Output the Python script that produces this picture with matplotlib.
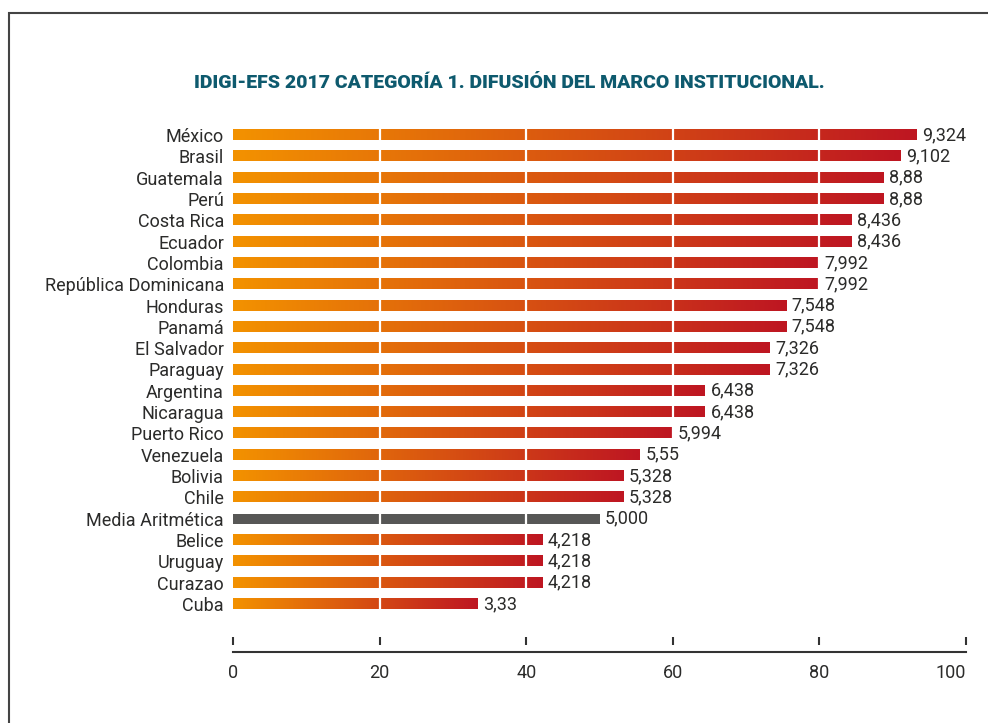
import numpy as np
import matplotlib
matplotlib.use('Agg')
import matplotlib.pyplot as plt
from matplotlib.colors import LinearSegmentedColormap
from matplotlib.patches import Rectangle
from matplotlib.lines import Line2D

plt.rcParams['font.family'] = ['Roboto', 'DejaVu Sans']

# data
countries = ['México', 'Brasil', 'Guatemala', 'Perú', 'Costa Rica', 'Ecuador', 'Colombia',
             'República Dominicana', 'Honduras', 'Panamá', 'El Salvador', 'Paraguay',
             'Argentina', 'Nicaragua', 'Puerto Rico', 'Venezuela', 'Bolivia', 'Chile',
             'Media Aritmética', 'Belice', 'Uruguay', 'Curazao', 'Cuba']
scores = [9.324, 9.102, 8.88, 8.88, 8.436, 8.436, 7.992, 7.992, 7.548, 7.548, 7.326, 7.326,
          6.438, 6.438, 5.994, 5.55, 5.328, 5.328, 5.000, 4.218, 4.218, 4.218, 3.33]
value_labels = ['9,324', '9,102', '8,88', '8,88', '8,436', '8,436', '7,992', '7,992', '7,548',
                '7,548', '7,326', '7,326', '6,438', '6,438', '5,994', '5,55', '5,328', '5,328',
                '5,000', '4,218', '4,218', '4,218', '3,33']
x_ticks = [0, 20, 40, 60, 80, 100]
title = 'IDIGI-EFS 2017 CATEGORÍA 1. DIFUSIÓN DEL MARCO INSTITUCIONAL.'

grad = LinearSegmentedColormap.from_list('bar_grad', ['#f39200', '#be1622'])
gray = '#575756'
text_color = '#2b2b2a'
fs = 13

fig = plt.figure(figsize=(9.88, 7.23), dpi=100)
ax = fig.add_axes([233 / 988, 78 / 723, 733 / 988, 525 / 723])

ramp = np.linspace(0, 1, 256).reshape(1, -1)
bar_h = 0.47
for i, (name, s, lab) in enumerate(zip(countries, scores, value_labels)):
    w = s * 10
    if name == 'Media Aritmética':
        ax.barh(i, w, height=bar_h, color=gray, zorder=2)
    else:
        ax.imshow(ramp, cmap=grad, aspect='auto', interpolation='bicubic',
                  extent=[0, w, i + bar_h / 2, i - bar_h / 2], zorder=2)
    ax.annotate(lab, (w, i), xytext=(4, 0), textcoords='offset points',
                ha='left', va='center', fontsize=fs, color=text_color, zorder=5)

# white separators only show over the bars
for t in x_ticks[1:-1]:
    ax.axvline(t, ymin=0.05, color='white', lw=1.6, zorder=3)

ax.set_xlim(0, 100)
ax.set_ylim(23.92, -0.70)
ax.set_yticks(range(len(countries)))
ax.set_yticklabels(countries, fontsize=fs, color=text_color)
ax.tick_params(axis='y', length=0, pad=6.5)
ax.set_xticks(x_ticks)
ax.set_xticklabels([str(t) for t in x_ticks], fontsize=fs, color=text_color)
ax.get_xticklabels()[-1].set_ha('right')
ax.tick_params(axis='x', direction='in', length=6, width=1.5, color='#333333', pad=14)
for sp in ax.spines.values():
    sp.set_visible(False)

# axis line sits a little below the tick marks
ax.add_line(Line2D([0, 1], [-0.0125, -0.0125], transform=ax.transAxes,
                   color='#333333', lw=1.5, clip_on=False))

fig.text(509 / 988, 1 - 83 / 723, title, ha='center', va='center',
         fontsize=14, fontweight='black', color='#0e5a6e')

# frame around the figure (right and bottom edges fall outside)
fig.patches.append(Rectangle((8.5 / 988, -0.1), 1.2, 1.1 - 13 / 723,
                             transform=fig.transFigure, fill=False,
                             edgecolor='#444444', lw=1.5))

fig.savefig('out.png', dpi=100, facecolor='white')
